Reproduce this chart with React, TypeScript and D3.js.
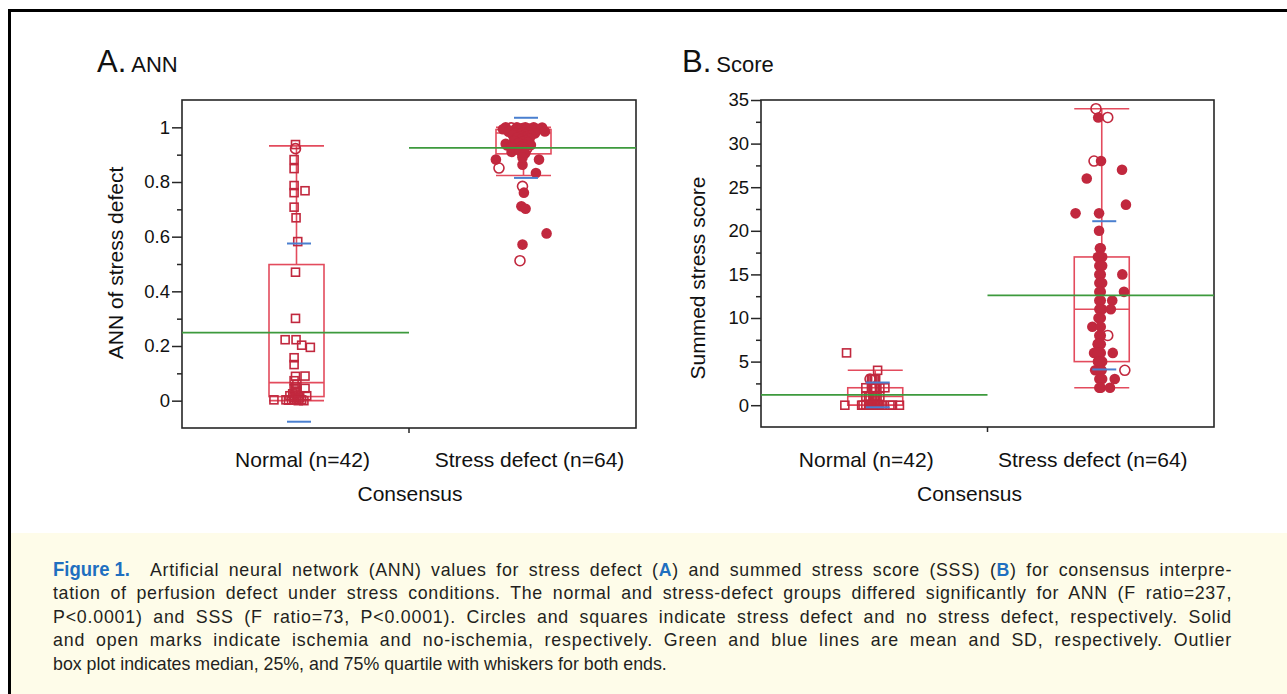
import React, { useEffect, useRef } from "react";
import * as d3 from "d3";

const W = 1287;
const H = 694;

const categories = ["Normal (n=42)", "Stress defect (n=64)"];

// each point: [value, jitter across the box (-1..1), marker]
// marker: sq = open square, oc = open circle, fc = filled circle
type Pt = [number, number, string];

const annNormal: Pt[] = [
  [0.937, 0.0, "sq"], [0.922, 0.0, "oc"], [0.882, -0.05, "sq"], [0.849, -0.05, "sq"],
  [0.787, -0.05, "sq"], [0.768, 0.34, "sq"], [0.761, -0.05, "sq"], [0.708, -0.05, "sq"],
  [0.669, 0.02, "sq"], [0.582, 0.08, "sq"], [0.47, 0.0, "sq"], [0.301, 0.0, "sq"],
  [0.223, -0.37, "sq"], [0.223, 0.02, "sq"], [0.203, 0.22, "sq"], [0.195, 0.53, "sq"],
  [0.157, -0.05, "sq"], [0.132, -0.05, "sq"], [0.09, 0.34, "sq"], [0.089, 0.0, "sq"],
  [0.073, -0.05, "sq"], [0.061, 0.05, "sq"], [0.05, 0.0, "sq"], [0.045, 0.34, "sq"],
  [0.043, -0.05, "sq"], [0.035, 0.0, "sq"], [0.03, 0.05, "sq"], [0.025, -0.1, "sq"],
  [0.018, -0.2, "sq"], [0.018, 0.1, "sq"], [0.018, 0.4, "sq"], [0.012, -0.05, "sq"],
  [0.01, 0.15, "sq"], [0.005, -0.05, "sq"], [0.003, -0.77, "sq"], [0.003, -0.34, "sq"],
  [0.003, -0.14, "sq"], [0.003, 0.04, "sq"], [0.003, 0.22, "sq"], [0.002, -0.25, "sq"],
  [0.0, 0.1, "sq"], [0.0, 0.3, "sq"],
];

const annStress: Pt[] = [
  [0.934, -0.56, "fc"], [0.922, 0.15, "oc"], [0.91, -0.39, "fc"], [0.897, 0.0, "fc"],
  [0.882, -0.95, "fc"], [0.882, 0.59, "fc"], [0.863, 0.0, "fc"], [0.851, -0.84, "oc"],
  [0.833, 0.48, "fc"], [0.784, 0.0, "oc"], [0.761, 0.05, "fc"], [0.711, -0.04, "fc"],
  [0.702, 0.11, "fc"], [0.612, 0.86, "fc"], [0.571, 0.0, "fc"], [0.512, -0.09, "oc"],
  [1.0, -0.6, "fc"], [1.0, -0.2, "fc"], [1.0, 0.1, "fc"], [1.0, 0.4, "fc"],
  [0.999, 0.7, "fc"], [0.998, -0.4, "oc"], [0.997, 0.0, "fc"], [0.996, 0.25, "fc"],
  [0.995, -0.1, "fc"], [0.994, 0.55, "fc"], [0.993, -0.7, "fc"], [0.992, 0.15, "fc"],
  [0.99, -0.3, "fc"], [0.989, 0.35, "fc"], [0.988, 0.05, "fc"], [0.986, -0.15, "fc"],
  [0.985, 0.8, "fc"], [0.984, -0.5, "fc"], [0.982, 0.2, "fc"], [0.98, 0.0, "fc"],
  [0.979, -0.25, "fc"], [0.978, 0.45, "fc"], [0.976, -0.05, "fc"], [0.974, 0.1, "fc"],
  [0.972, -0.35, "fc"], [0.97, 0.3, "fc"], [0.968, 0.0, "fc"], [0.966, -0.1, "fc"],
  [0.964, 0.15, "fc"], [0.962, -0.2, "fc"], [0.96, 0.05, "fc"], [0.958, 0.25, "fc"],
  [0.955, -0.05, "fc"], [0.952, 0.1, "fc"], [0.95, -0.3, "fc"], [0.947, 0.0, "fc"],
  [0.944, 0.2, "fc"], [0.942, -0.15, "fc"], [0.94, -0.6, "fc"], [0.938, 0.05, "fc"],
  [0.935, 0.3, "fc"], [0.93, -0.05, "fc"], [0.927, -0.4, "fc"], [0.925, 0.05, "fc"],
  [0.92, 0.0, "fc"], [0.915, -0.1, "fc"], [0.905, 0.1, "fc"], [0.89, 0.0, "fc"],
];

const sssNormal: Pt[] = [
  [6, -0.99, "sq"], [4, 0.12, "sq"], [3, -0.15, "oc"], [3, -0.1, "sq"], [3, 0.05, "sq"],
  [3, 0.0, "sq"], [3, -0.05, "sq"], [2, 0.38, "sq"], [2, -0.1, "sq"], [2, 0.05, "sq"],
  [2, -0.3, "sq"], [2, 0.2, "sq"], [2, 0.0, "sq"], [2, -0.05, "sq"], [1, -0.3, "sq"],
  [1, 0.0, "sq"], [1, 0.1, "sq"], [1, -0.15, "sq"], [1, 0.2, "sq"], [1, -0.05, "sq"],
  [1, 0.05, "sq"], [1, -0.2, "sq"], [0, -1.05, "sq"], [0, -0.45, "sq"], [0, -0.3, "sq"],
  [0, -0.2, "sq"], [0, -0.1, "sq"], [0, -0.05, "sq"], [0, 0.0, "sq"], [0, 0.05, "sq"],
  [0, 0.1, "sq"], [0, 0.15, "sq"], [0, 0.2, "sq"], [0, 0.0, "sq"], [0, -0.15, "sq"],
  [0, 0.56, "sq"], [0, 0.9, "sq"], [0, 0.65, "sq"], [0, -0.4, "sq"], [0, 0.1, "sq"],
  [0, -0.05, "sq"], [0, 0.3, "sq"],
];

const sssStress: Pt[] = [
  [34, -0.17, "oc"], [33, -0.09, "fc"], [33, 0.25, "oc"], [28, -0.24, "oc"], [28, 0.01, "fc"],
  [27, 0.76, "fc"], [26, -0.5, "fc"], [23, 0.9, "fc"], [22, -0.9, "fc"], [22, -0.06, "fc"],
  [20, -0.06, "fc"], [18, -0.03, "fc"], [18, 0.0, "fc"], [17, 0.0, "fc"], [17, 0.05, "fc"],
  [17, -0.1, "fc"], [16, -0.05, "fc"], [16, 0.0, "fc"], [16, 0.05, "fc"], [15, 0.0, "fc"],
  [15, 0.77, "fc"], [15, -0.05, "fc"], [14, 0.0, "fc"], [14, -0.05, "fc"], [14, 0.05, "fc"],
  [13, 0.0, "fc"], [13, 0.83, "fc"], [13, -0.05, "fc"], [12, 0.41, "fc"], [12, 0.0, "fc"],
  [12, -0.05, "fc"], [11, 0.05, "fc"], [11, 0.36, "fc"], [11, -0.05, "fc"], [10, 0.0, "fc"],
  [10, -0.08, "fc"], [9, -0.3, "fc"], [9, 0.0, "fc"], [8, 0.25, "oc"], [8, 0.0, "fc"],
  [8, -0.05, "fc"], [7, -0.09, "oc"], [7, 0.0, "fc"], [7, -0.1, "fc"], [6, -0.24, "fc"],
  [6, 0.43, "fc"], [6, 0.0, "fc"], [6, -0.1, "fc"], [5, 0.0, "fc"], [5, -0.1, "fc"],
  [5, 0.05, "fc"], [5, -0.05, "fc"], [4, -0.2, "fc"], [4, 0.03, "fc"], [4, 0.86, "oc"],
  [4, -0.1, "fc"], [4, 0.0, "fc"], [3, 0.5, "fc"], [3, 0.0, "fc"], [3, -0.05, "fc"],
  [3, 0.05, "fc"], [2, 0.0, "fc"], [2, 0.33, "fc"], [2, -0.05, "fc"],
];

// [low whisker, Q1, median, Q3, high whisker] per category
const annBox = [
  [0.0, 0.015, 0.066, 0.498, 0.932],
  [0.824, 0.903, 0.979, 0.992, 1.0],
];
const sssBox = [
  [0, 0, 1, 2, 4],
  [2, 5, 11, 17, 34],
];
const annMean = [0.249, 0.925];
const annSd = [0.326, 0.11];
const sssMean = [1.18, 12.6];
const sssSd = [1.42, 8.5];

const annTicks = [0, 0.2, 0.4, 0.6, 0.8, 1];
const annTickLabels = ["0", "0.2", "0.4", "0.6", "0.8", "1"];
const annMinor = [0.1, 0.3, 0.5, 0.7, 0.9];
const sssTicks = [0, 5, 10, 15, 20, 25, 30, 35];
const sssTickLabels = ["0", "5", "10", "15", "20", "25", "30", "35"];
const sssMinor = [2.5, 7.5, 12.5, 17.5, 22.5, 27.5, 32.5];

const captionLines = [
  "tation of perfusion defect under stress conditions. The normal and stress-defect groups differed significantly for ANN (F ratio=237,",
  "P<0.0001) and SSS (F ratio=73, P<0.0001). Circles and squares indicate stress defect and no stress defect, respectively. Solid",
  "and open marks indicate ischemia and no-ischemia, respectively. Green and blue lines are mean and SD, respectively. Outlier",
  "box plot indicates median, 25%, and 75% quartile with whiskers for both ends.",
];

const FONT = "'Liberation Sans', Arial, Helvetica, sans-serif";
const RED = "#c1283e";
const BOXRED = "#e34b5d";
const GREEN = "#3d9a3d";
const BLUE = "#4a7fcf";
const FRAME = "#262626";
const BLUEFIG = "#1f6fc0";

const panels = [
  {
    letter: "A.", sub: "ANN", titleX: 97, yTitle: "ANN of stress defect", yTitleX: 123, yTitleY: 263,
    left: 182, right: 636, top: 100, bottom: 428, domain: [-0.1, 1.1],
    major: annTicks, majorLabels: annTickLabels, minor: annMinor,
    groups: [annNormal, annStress], box: annBox, mean: annMean, sd: annSd,
    catShift: 7, consShift: 1,
  },
  {
    letter: "B.", sub: "Score", titleX: 682, yTitle: "Summed stress score", yTitleX: 705, yTitleY: 278,
    left: 761, right: 1214, top: 100, bottom: 427, domain: [-2.5, 35],
    major: sssTicks, majorLabels: sssTickLabels, minor: sssMinor,
    groups: [sssNormal, sssStress], box: sssBox, mean: sssMean, sd: sssSd,
    catShift: -8, consShift: -18,
  },
];

function drawPanel(root: any, c: any) {
  const g = root.append("g");
  const x = d3.scaleBand().domain(categories).range([c.left, c.right]).padding(0);
  const y = d3.scaleLinear().domain(c.domain).range([c.bottom, c.top]);
  const jit = d3.scaleLinear().domain([-1, 1]).range([-28, 28]);
  const bw = x.bandwidth();

  // title
  const t = g.append("text").attr("x", c.titleX).attr("y", 72).attr("fill", "#111");
  t.append("tspan").attr("font-size", 31).text(c.letter);
  t.append("tspan").attr("font-size", 22).attr("dx", 5).text(c.sub);

  // frame
  g.append("rect")
    .attr("x", c.left).attr("y", c.top)
    .attr("width", c.right - c.left).attr("height", c.bottom - c.top)
    .attr("fill", "none").attr("stroke", FRAME).attr("stroke-width", 1.6);

  // y axis: major and minor ticks
  const ax = g.append("g").attr("transform", `translate(${c.left},0)`)
    .call(d3.axisLeft(y).tickValues(c.major).tickSize(10).tickPadding(2)
      .tickFormat((d: any, i: number) => c.majorLabels[i]));
  ax.attr("font-size", 18.5).attr("font-family", FONT);
  ax.select(".domain").remove();
  ax.selectAll("line").attr("stroke", FRAME).attr("stroke-width", 1.5);
  ax.selectAll("text").attr("fill", "#111");

  const mn = g.append("g").attr("transform", `translate(${c.left},0)`)
    .call(d3.axisLeft(y).tickValues(c.minor).tickSize(5).tickFormat(() => ""));
  mn.select(".domain").remove();
  mn.selectAll("line").attr("stroke", FRAME).attr("stroke-width", 1.5);

  // x axis middle tick
  g.append("line")
    .attr("x1", x(categories[1])).attr("x2", x(categories[1]))
    .attr("y1", c.bottom).attr("y2", c.bottom + 5)
    .attr("stroke", FRAME).attr("stroke-width", 1.5);

  // category labels
  categories.forEach((cat) => {
    g.append("text")
      .attr("x", (x(cat) as number) + bw / 2 + c.catShift).attr("y", 467)
      .attr("text-anchor", "middle").attr("font-size", 21).attr("fill", "#111")
      .text(cat);
  });
  g.append("text")
    .attr("x", (c.left + c.right) / 2 + c.consShift).attr("y", 501)
    .attr("text-anchor", "middle").attr("font-size", 21).attr("fill", "#111")
    .text("Consensus");

  g.append("text")
    .attr("transform", `translate(${c.yTitleX},${c.yTitleY}) rotate(-90)`)
    .attr("text-anchor", "middle").attr("font-size", 21).attr("fill", "#111")
    .text(c.yTitle);

  categories.forEach((cat, i) => {
    const cx = (x(cat) as number) + bw / 2;
    const bx = cx + 1;
    const half = 27.5;
    const [lo, q1, med, q3, hi] = c.box[i];
    const bg = g.append("g").attr("stroke", BOXRED).attr("stroke-width", 1.6).attr("fill", "none");
    bg.append("rect").attr("x", bx - half).attr("y", y(q3))
      .attr("width", half * 2).attr("height", Math.max(0, y(q1) - y(q3)));
    bg.append("line").attr("x1", bx - half).attr("x2", bx + half).attr("y1", y(med)).attr("y2", y(med));
    bg.append("line").attr("x1", bx).attr("x2", bx).attr("y1", y(q3)).attr("y2", y(hi));
    bg.append("line").attr("x1", bx).attr("x2", bx).attr("y1", y(q1)).attr("y2", y(lo));
    bg.append("line").attr("x1", bx - half).attr("x2", bx + half).attr("y1", y(hi)).attr("y2", y(hi));
    bg.append("line").attr("x1", bx - half).attr("x2", bx + half).attr("y1", y(lo)).attr("y2", y(lo));

    // points
    const pg = g.append("g");
    c.groups[i].forEach((p: Pt) => {
      const px = cx + jit(p[1]);
      const py = y(p[0]);
      if (p[2] === "sq") {
        pg.append("rect").attr("x", px - 4).attr("y", py - 4).attr("width", 8).attr("height", 8)
          .attr("fill", "none").attr("stroke", RED).attr("stroke-width", 1.6);
      } else if (p[2] === "oc") {
        pg.append("circle").attr("cx", px).attr("cy", py).attr("r", 5)
          .attr("fill", "none").attr("stroke", RED).attr("stroke-width", 1.6);
      } else {
        pg.append("circle").attr("cx", px).attr("cy", py).attr("r", 5.3).attr("fill", RED);
      }
    });

    // mean and SD
    g.append("line")
      .attr("x1", x(cat) as number).attr("x2", (x(cat) as number) + bw)
      .attr("y1", y(c.mean[i])).attr("y2", y(c.mean[i]))
      .attr("stroke", GREEN).attr("stroke-width", 1.6);
    [c.mean[i] - c.sd[i], c.mean[i] + c.sd[i]].forEach((v) => {
      g.append("line")
        .attr("x1", cx + 3.5 - 12).attr("x2", cx + 3.5 + 12)
        .attr("y1", y(v)).attr("y2", y(v))
        .attr("stroke", BLUE).attr("stroke-width", 2);
    });
  });
}

// stretch a line to a given width: half through letter spacing, the rest between words
function justify(sel: any, target: number) {
  const node = sel.node() as SVGTextElement;
  const text = node.textContent || "";
  const natural = node.getComputedTextLength();
  if (natural >= target) return;
  const extra = target - natural;
  sel.attr("letter-spacing", (extra * 0.55) / text.length);
  const now = node.getComputedTextLength();
  const spaces = text.split(" ").length - 1;
  if (spaces > 0 && now < target) sel.attr("word-spacing", (target - now) / spaces);
}

const App = () => {
  const svgRef = useRef<SVGSVGElement | null>(null);

  useEffect(() => {
    const svg = d3.select(svgRef.current);
    svg.selectAll("*").remove();
    svg.attr("font-family", FONT);

    svg.append("rect").attr("width", W).attr("height", H).attr("fill", "#fff");
    // caption background
    svg.append("rect").attr("x", 11).attr("y", 533).attr("width", W - 11).attr("height", H - 533)
      .attr("fill", "#fefce9");
    // outer border (top and left)
    svg.append("path").attr("d", `M9.5,${H} V10.5 H${W}`)
      .attr("fill", "none").attr("stroke", "#000").attr("stroke-width", 3);

    panels.forEach((p) => drawPanel(svg, p));

    // caption
    const cap = svg.append("g").attr("font-size", 17.8).attr("fill", "#231f20");
    cap.append("text").attr("x", 53).attr("y", 576)
      .attr("font-weight", "bold").attr("fill", BLUEFIG).attr("font-size", 19.5)
      .attr("textLength", 77).attr("lengthAdjust", "spacingAndGlyphs")
      .text("Figure 1.");
    const l1 = cap.append("text").attr("x", 150).attr("y", 576);
    l1.append("tspan").text("Artificial neural network (ANN) values for stress defect (");
    l1.append("tspan").attr("font-weight", "bold").attr("fill", BLUEFIG).text("A");
    l1.append("tspan").text(") and summed stress score (SSS) (");
    l1.append("tspan").attr("font-weight", "bold").attr("fill", BLUEFIG).text("B");
    l1.append("tspan").text(") for consensus interpre-");
    justify(l1, 1232 - 150);

    captionLines.forEach((line, i) => {
      const tx = cap.append("text").attr("x", 53).attr("y", 576 + (i + 1) * 23.4).text(line);
      if (i < captionLines.length - 1) justify(tx, 1232 - 53);
    });
  }, []);

  return (
    <svg
      ref={svgRef}
      width={W}
      height={H}
      style={{ position: "absolute", left: 0, top: 0, display: "block" }}
    />
  );
};

export default App;
